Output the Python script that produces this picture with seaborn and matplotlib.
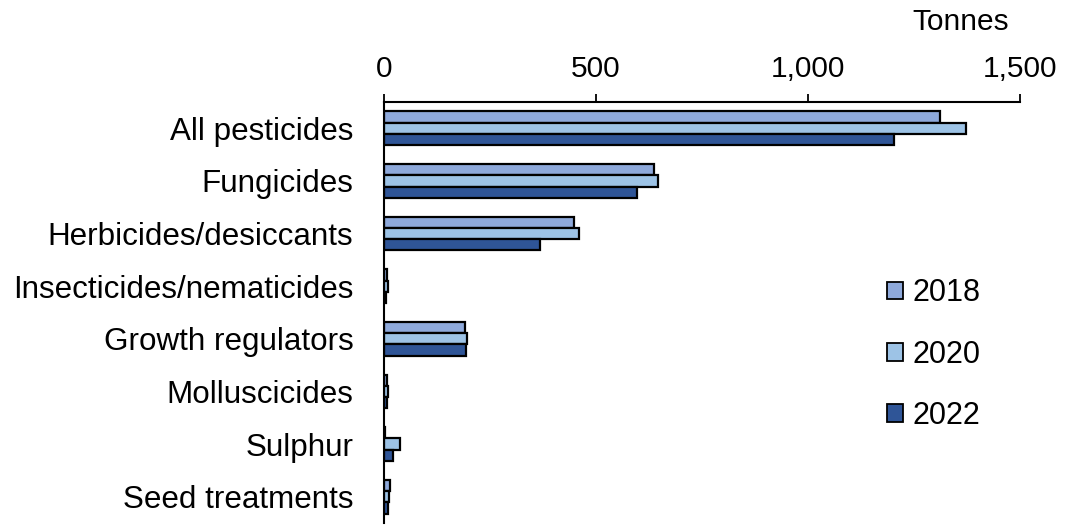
import matplotlib
matplotlib.use('Agg')
from matplotlib import pyplot as plt
import pandas as pd
import numpy as np
import seaborn as sns

categories = ['All pesticides', 'Fungicides', 'Herbicides/desiccants',
              'Insecticides/nematicides', 'Growth regulators', 'Molluscicides',
              'Sulphur', 'Seed treatments']
years = ['2018', '2020', '2022']
tonnes_2018 = [1312, 637, 449, 8, 190, 8, 2, 15]
tonnes_2020 = [1373, 647, 461, 10, 195, 10, 38, 12]
tonnes_2022 = [1204, 597, 367, 5, 193, 6, 22, 10]
colours = ['#8EA9DB', '#9DC3E6', '#2F5597']
x_ticks = [0, 500, 1000, 1500]
x_labels = ['0', '500', '1,000', '1,500']

df = pd.DataFrame({
    'category': categories * 3,
    'year': [y for y in years for _ in categories],
    'tonnes': tonnes_2018 + tonnes_2020 + tonnes_2022,
})

sns.set_style('white')
plt.rcParams['font.family'] = ['Liberation Sans', 'DejaVu Sans']
plt.rcParams['text.color'] = 'black'
plt.rcParams['xtick.color'] = 'black'
plt.rcParams['ytick.color'] = 'black'

fs = 22

fig = plt.figure(figsize=(10.67, 5.25), dpi=100)
ax = fig.add_axes([0.3599, 0.0038, 0.596, 0.802])

sns.barplot(data=df, y='category', x='tonnes', hue='year', orient='h',
            hue_order=years, order=categories, palette=colours, saturation=1,
            width=0.64, edgecolor='black', linewidth=1.6, ax=ax)

ax.set_xlim(0, 1500)
ax.set_ylim(len(categories) - 0.5, -0.5)
ax.xaxis.tick_top()
ax.set_xticks(x_ticks)
ax.set_xticklabels(x_labels, fontsize=fs - 0.5)
ax.tick_params(axis='x', direction='out', length=6, width=1.3, pad=8)
ax.set_xlabel('')
ax.set_ylabel('')
ax.set_yticks(range(len(categories)))
ax.set_yticklabels(categories, fontsize=fs + 0.6)
ax.tick_params(axis='y', which='major', length=0, pad=22)
ax.set_yticks(np.arange(-0.5, len(categories), 1), minor=True)
ax.tick_params(axis='y', which='minor', direction='out', length=6, width=1.3)
for s in ['right', 'bottom']:
    ax.spines[s].set_visible(False)
for s in ['top', 'left']:
    ax.spines[s].set_color('black')
    ax.spines[s].set_linewidth(1.5)

fig.text(961 / 1067, 1 - 22 / 525, 'Tonnes', fontsize=fs - 0.5, ha='center', va='center')

leg = ax.legend(loc='center left', bbox_to_anchor=(0.791, 0.4), frameon=False,
                fontsize=fs, labelspacing=1.02, handlelength=0.52, handleheight=0.52,
                handletextpad=0.3, borderpad=0, borderaxespad=0)
for h in leg.legend_handles:
    h.set_edgecolor('black')
    h.set_linewidth(1.3)

fig.savefig('out.png', dpi=100)
